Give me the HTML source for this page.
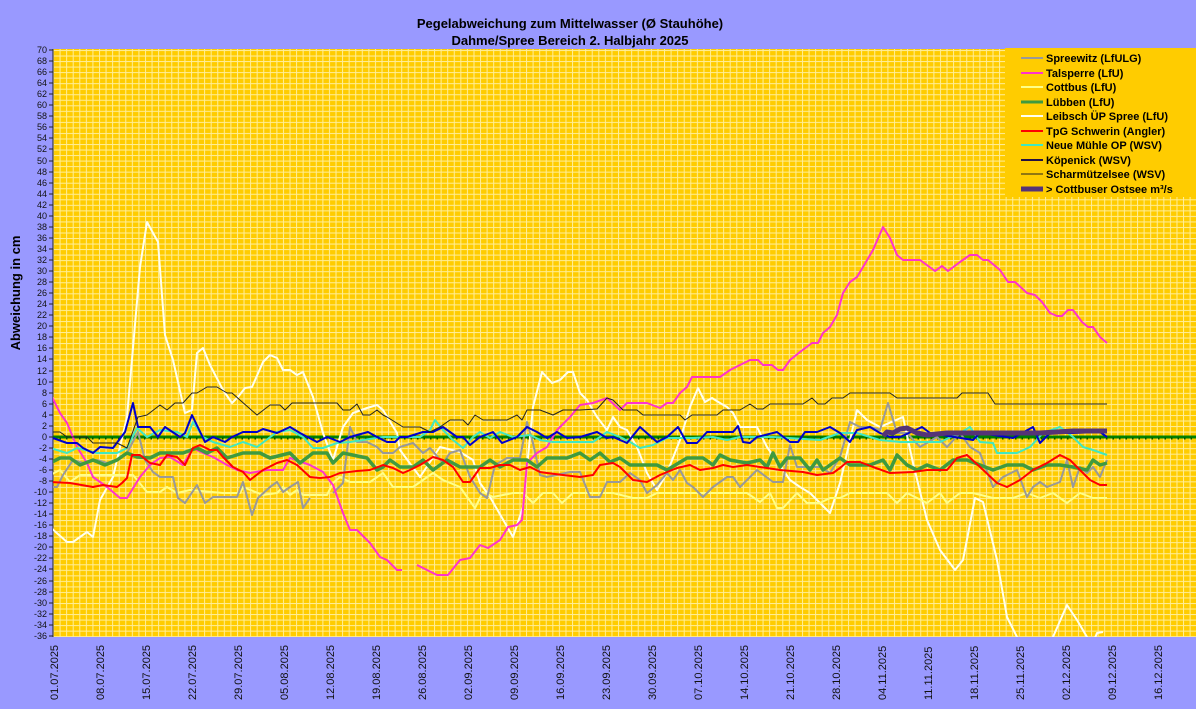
<!DOCTYPE html>
<html><head><meta charset="utf-8"><style>
html,body{margin:0;padding:0;background:#9999FF;}
svg{display:block;font-family:"Liberation Sans",Arial,sans-serif;}
</style></head><body>
<svg width="1196" height="709" viewBox="0 0 1196 709" xmlns="http://www.w3.org/2000/svg">
<defs>
<pattern id="vg" x="53" y="0" width="6.57" height="709" patternUnits="userSpaceOnUse"><rect x="0" y="0" width="1" height="709" fill="#FFEE99"/></pattern>
<pattern id="hg" x="0" y="50" width="1196" height="5.53" patternUnits="userSpaceOnUse"><rect x="0" y="0" width="1196" height="1" fill="#FFEE99"/></pattern>
<clipPath id="pc"><rect x="53" y="49" width="1143" height="588"/></clipPath>
</defs>
<rect x="0" y="0" width="1196" height="709" fill="#9999FF"/>
<rect x="53" y="49" width="1143" height="588" fill="#FFCC00"/>
<rect x="53" y="49" width="1143" height="588" fill="url(#vg)"/>
<rect x="53" y="49" width="1143" height="588" fill="url(#hg)"/>
<text x="570" y="28" text-anchor="middle" font-size="13" font-weight="bold" fill="#000">Pegelabweichung zum Mittelwasser (Ø Stauhöhe)</text>
<text x="570" y="45" text-anchor="middle" font-size="13" font-weight="bold" fill="#000">Dahme/Spree Bereich 2. Halbjahr 2025</text>
<text transform="translate(20,293) rotate(-90)" text-anchor="middle" font-size="13" font-weight="bold" fill="#000">Abweichung in cm</text>
<line x1="53" y1="49" x2="53" y2="637" stroke="#222" stroke-width="1"/>
<g font-size="9" fill="#111" text-anchor="end">
<text x="47" y="53">70</text><text x="47" y="64">68</text><text x="47" y="75">66</text><text x="47" y="86">64</text><text x="47" y="97">62</text><text x="47" y="108">60</text><text x="47" y="119">58</text><text x="47" y="130">56</text><text x="47" y="141">54</text><text x="47" y="152">52</text><text x="47" y="164">50</text><text x="47" y="175">48</text><text x="47" y="186">46</text><text x="47" y="197">44</text><text x="47" y="208">42</text><text x="47" y="219">40</text><text x="47" y="230">38</text><text x="47" y="241">36</text><text x="47" y="252">34</text><text x="47" y="263">32</text><text x="47" y="274">30</text><text x="47" y="285">28</text><text x="47" y="296">26</text><text x="47" y="307">24</text><text x="47" y="318">22</text><text x="47" y="329">20</text><text x="47" y="340">18</text><text x="47" y="351">16</text><text x="47" y="362">14</text><text x="47" y="374">12</text><text x="47" y="385">10</text><text x="47" y="396">8</text><text x="47" y="407">6</text><text x="47" y="418">4</text><text x="47" y="429">2</text><text x="47" y="440">0</text><text x="47" y="451">-2</text><text x="47" y="462">-4</text><text x="47" y="473">-6</text><text x="47" y="484">-8</text><text x="47" y="495">-10</text><text x="47" y="506">-12</text><text x="47" y="517">-14</text><text x="47" y="528">-16</text><text x="47" y="539">-18</text><text x="47" y="550">-20</text><text x="47" y="561">-22</text><text x="47" y="572">-24</text><text x="47" y="584">-26</text><text x="47" y="595">-28</text><text x="47" y="606">-30</text><text x="47" y="617">-32</text><text x="47" y="628">-34</text><text x="47" y="639">-36</text>
</g>
<path d="M49 50h4M49 61h4M49 72h4M49 83h4M49 94h4M49 105h4M49 116h4M49 127h4M49 138h4M49 149h4M49 161h4M49 172h4M49 183h4M49 194h4M49 205h4M49 216h4M49 227h4M49 238h4M49 249h4M49 260h4M49 271h4M49 282h4M49 293h4M49 304h4M49 315h4M49 326h4M49 337h4M49 348h4M49 359h4M49 371h4M49 382h4M49 393h4M49 404h4M49 415h4M49 426h4M49 437h4M49 448h4M49 459h4M49 470h4M49 481h4M49 492h4M49 503h4M49 514h4M49 525h4M49 536h4M49 547h4M49 558h4M49 569h4M49 581h4M49 592h4M49 603h4M49 614h4M49 625h4M49 636h4" stroke="#222" stroke-width="1"/>
<g font-size="11" fill="#111">
<text transform="translate(58,700) rotate(-90)">01.07.2025</text>
<text transform="translate(104,700) rotate(-90)">08.07.2025</text>
<text transform="translate(150,700) rotate(-90)">15.07.2025</text>
<text transform="translate(196,700) rotate(-90)">22.07.2025</text>
<text transform="translate(242,700) rotate(-90)">29.07.2025</text>
<text transform="translate(288,700) rotate(-90)">05.08.2025</text>
<text transform="translate(334,700) rotate(-90)">12.08.2025</text>
<text transform="translate(380,700) rotate(-90)">19.08.2025</text>
<text transform="translate(426,700) rotate(-90)">26.08.2025</text>
<text transform="translate(472,700) rotate(-90)">02.09.2025</text>
<text transform="translate(518,700) rotate(-90)">09.09.2025</text>
<text transform="translate(564,700) rotate(-90)">16.09.2025</text>
<text transform="translate(610,700) rotate(-90)">23.09.2025</text>
<text transform="translate(656,700) rotate(-90)">30.09.2025</text>
<text transform="translate(702,700) rotate(-90)">07.10.2025</text>
<text transform="translate(748,700) rotate(-90)">14.10.2025</text>
<text transform="translate(794,700) rotate(-90)">21.10.2025</text>
<text transform="translate(840,700) rotate(-90)">28.10.2025</text>
<text transform="translate(886,700) rotate(-90)">04.11.2025</text>
<text transform="translate(932,700) rotate(-90)">11.11.2025</text>
<text transform="translate(978,700) rotate(-90)">18.11.2025</text>
<text transform="translate(1024,700) rotate(-90)">25.11.2025</text>
<text transform="translate(1070,700) rotate(-90)">02.12.2025</text>
<text transform="translate(1116,700) rotate(-90)">09.12.2025</text>
<text transform="translate(1162,700) rotate(-90)">16.12.2025</text>
</g>
<g clip-path="url(#pc)" fill="none" stroke-linejoin="round">
<line x1="53" y1="437" x2="1196" y2="437" stroke="#008000" stroke-width="3"/>
<line x1="53" y1="438.5" x2="1196" y2="438.5" stroke="#005500" stroke-width="2" stroke-dasharray="1.5,5"/>
<polyline stroke="#FFFFF0" stroke-width="2" points="50,527 67,542 73,542 87,532 93,537 100,500 113,477 127,417 140,267 147,222 158,242 165,335 173,360 185,413 192,410 197,353 203,348 210,365 223,390 232,403 238,397 245,388 252,387 263,362 270,355 277,358 283,370 290,370 297,375 303,372 313,397 323,433 333,460 343,427 353,413 367,408 377,405 383,410 397,433 400,450 420,477 440,447 460,452 473,460 480,483 490,497 513,537 523,507 533,407 542,372 552,383 560,380 568,372 573,372 580,393 587,400 597,417 607,430 613,417 620,427 627,430 637,447 647,473 657,490 667,473 680,440 690,407 698,388 705,402 712,398 720,403 727,407 733,413 740,427 750,427 757,427 767,447 790,480 800,487 810,493 830,513 840,483 857,410 867,420 880,427 903,417 913,463 927,520 940,550 955,570 963,560 975,498 983,502 997,560 1007,617 1017,637 1030,660 1045,660 1053,637 1067,605 1077,620 1087,637 1092,645 1097,633 1103,632"/>
<polyline stroke="#FFFF88" stroke-width="2" points="50,475 60,470 70,482 80,475 117,475 133,475 147,492 160,492 167,487 177,493 190,490 223,493 240,493 243,487 263,495 277,493 283,487 290,495 297,490 303,495 327,495 333,483 340,477 350,482 370,482 383,473 393,487 413,487 433,473 443,480 460,487 475,508 483,492 493,497 513,493 523,493 533,503 543,493 553,493 562,503 573,493 613,493 633,498 647,498 657,493 700,493 747,493 760,502 770,493 777,508 783,508 797,493 807,503 820,503 830,498 840,498 850,493 880,493 887,493 897,503 907,493 927,503 940,493 947,503 960,493 973,493 993,498 1013,498 1027,493 1040,498 1053,493 1067,503 1080,493 1093,498 1107,498"/>
<polyline stroke="#999999" stroke-width="2" points="50,487 57,487 63,475 73,460 83,463 97,460 107,463 117,460 127,453 138,432 145,460 153,472 160,477 173,477 178,498 185,503 197,485 205,503 213,497 237,497 243,482 252,515 258,498 270,487 277,482 283,492 290,487 298,482 303,508 310,498"/>
<polyline stroke="#999999" stroke-width="2" points="333,493 343,483 350,427 357,442 367,442 377,447 383,453 393,453 400,447 413,443 423,453 430,448 443,463 450,453 460,450 470,477 480,493 487,498 495,465 507,458 520,458 527,422 533,443 540,475 547,477 570,472 580,472 590,497 600,497 607,482 620,482 630,473 640,480 647,493 657,485 667,473 673,480 680,470 687,483 693,487 703,497 713,487 727,477 733,477 740,487 747,480 757,470 773,482 783,482 790,445 797,467 820,467 830,473 840,457 850,422 860,427 870,427 880,430 888,403 897,433 907,433 920,447 937,437 947,447 960,433 970,447 980,453 993,487 1003,477 1017,470 1027,497 1033,487 1040,482 1047,487 1060,482 1067,460 1073,487 1080,467 1087,473 1093,467 1100,477 1107,460"/>
<polyline stroke="#FF33CC" stroke-width="2" points="50,393 60,413 67,423 77,447 87,463 93,477 107,487 120,498 127,498 140,477 150,465 160,458 170,457 183,465 193,448 203,453 213,457 227,465 237,470 250,473 267,470 283,470 290,458 310,465 323,472 333,485 343,513 350,530 357,530 370,543 380,557 387,560 397,570 402,570"/>
<polyline stroke="#FF33CC" stroke-width="2" points="417,565 427,570 437,575 448,575 460,560 470,558 480,545 488,548 500,540 508,527 517,525 522,520 527,463 537,453 547,447 557,430 570,417 580,405 593,403 607,398 620,410 627,403 647,403 660,408 667,403 673,403 680,393 687,387 692,377 700,377 720,377 730,370 740,365 750,360 758,360 763,365 772,365 778,370 783,370 790,360 800,352 812,343 818,343 823,333 830,327 837,315 843,293 850,282 857,277 863,267 873,250 883,227 890,238 897,255 903,260 920,260 935,271 942,266 948,271 960,262 970,255 977,255 983,260 988,260 1000,270 1008,282 1015,282 1027,293 1035,295 1042,302 1050,313 1057,316 1062,316 1068,310 1073,310 1082,322 1088,327 1093,327 1100,337 1107,343"/>
<polyline stroke="#3F9A3F" stroke-width="3.5" points="50,463 60,458 70,458 80,465 93,460 105,465 117,460 127,453 137,457 150,458 160,453 183,453 197,448 207,453 217,448 227,458 243,453 260,453 270,458 290,453 300,463 313,453 327,453 333,463 343,453 367,458 377,470 383,467 390,460 400,467 413,467 423,460 433,470 447,460 460,467 480,467 490,460 500,467 513,460 527,460 537,467 547,458 567,458 580,453 590,460 600,453 610,462 620,458 630,465 657,465 667,470 687,458 703,458 713,465 720,455 730,460 747,463 760,460 767,467 773,453 780,467 787,458 800,458 810,470 817,460 823,470 840,458 850,465 870,465 883,460 890,470 897,455 907,465 917,470 927,465 940,470 953,460 967,460 980,465 993,470 1007,465 1023,465 1033,470 1047,465 1060,465 1073,467 1087,470 1093,460 1100,465 1107,463"/>
<polyline stroke="#FF0000" stroke-width="2" points="50,482 70,483 93,487 103,485 117,487 122,483 127,478 132,455 140,455 150,463 160,465 167,455 177,457 185,465 193,448 200,445 210,450 217,450 223,457 233,467 243,472 250,480 263,470 277,463 287,460 297,465 310,477 320,478 330,477 340,473 357,471 370,470 383,465 393,468 403,473 410,470 420,465 433,457 443,460 453,467 463,482 470,482 480,468 490,468 500,465 510,465 520,470 530,467 540,472 547,473 563,475 580,477 593,475 600,465 613,463 620,467 633,480 647,482 660,475 677,468 690,465 700,470 713,468 723,465 733,467 747,465 760,467 780,470 803,472 817,475 833,473 840,468 847,462 860,462 873,467 890,473 913,472 927,470 947,470 957,458 967,455 980,467 997,483 1007,487 1020,480 1033,470 1047,463 1060,455 1070,460 1080,470 1090,480 1100,485 1107,485"/>
<polyline stroke="#40E8C0" stroke-width="2" points="50,448 67,453 77,448 97,453 117,453 127,448 137,428 147,437 160,430 177,432 187,437 193,422 203,437 213,442 230,447 243,442 257,447 277,432 290,430 303,437 313,448 323,448 337,443 350,442 383,437 420,437 430,430 435,420 443,430 453,440 463,448 473,437 480,432 490,438 500,432 513,437 530,435 540,440 553,442 593,442 607,432 620,437 630,442 640,448 653,445 667,438 693,438 713,437 727,440 740,437 773,437 820,440 840,433 857,433 880,440 900,442 940,442 960,433 970,427 980,442 993,443 997,453 1017,453 1030,447 1043,433 1060,427 1073,437 1083,447 1093,450 1107,455"/>
<polyline stroke="#0000CC" stroke-width="2" points="50,437 67,443 77,443 83,448 93,453 100,447 113,448 125,432 133,403 138,427 150,427 158,437 165,427 180,437 185,433 192,415 205,442 213,437 225,442 232,437 243,432 257,432 263,429 277,433 290,427 300,433 317,442 327,437 340,442 350,437 368,432 377,437 387,442 395,442 400,437 407,437 423,432 433,432 443,427 457,437 463,437 470,445 480,437 493,432 502,443 517,437 527,427 537,432 547,438 557,432 567,438 580,437 597,432 607,438 613,437 627,443 640,427 657,442 667,437 678,427 687,443 697,443 707,432 733,432 738,426 743,442 750,443 757,437 777,432 790,442 798,442 805,432 817,432 830,427 840,433 850,442 857,430 870,427 880,433 890,437 900,437 922,427 930,433 973,440 980,433 1013,438 1033,427 1040,443 1050,433 1073,433 1100,432 1107,437"/>
<polyline stroke="#222" stroke-width="1" points="50,432 60,432 67,437 87,437 93,443 117,443 127,448 138,417 147,415 160,405 167,410 175,403 183,403 192,393 197,393 207,387 217,387 227,393 232,393 257,415 270,405 280,405 285,410 292,403 337,403 343,410 350,410 357,404 363,415 370,415 377,410 383,415 387,417 403,427 420,427 430,432 440,427 450,420 463,420 468,425 475,415 483,420 507,420 517,415 522,420 527,410 540,410 553,415 563,410 580,410 597,409 607,398 613,400 623,410 637,410 643,415 680,415 685,420 692,415 717,415 723,410 740,410 750,404 757,409 763,409 770,404 803,404 812,398 818,404 825,404 832,398 843,398 850,393 890,393 897,398 957,398 962,393 988,393 995,404 1107,404"/>
<polyline stroke="#553377" stroke-width="5" points="883,436 887,432 893,433 900,429 907,428 917,433 927,435 947,433 973,433 1000,433 1040,433 1073,431 1107,431"/>
</g>
<rect x="1005" y="48" width="191" height="149" fill="#FFCC00"/>
<g font-size="11" font-weight="bold" fill="#000">
<line x1="1021" y1="58" x2="1043" y2="58" stroke="#999999" stroke-width="2"/><text x="1046" y="62">Spreewitz (LfULG)</text>
<line x1="1021" y1="73" x2="1043" y2="73" stroke="#FF33CC" stroke-width="2"/><text x="1046" y="77">Talsperre (LfU)</text>
<line x1="1021" y1="87" x2="1043" y2="87" stroke="#FFFF88" stroke-width="2"/><text x="1046" y="91">Cottbus (LfU)</text>
<line x1="1021" y1="102" x2="1043" y2="102" stroke="#3F9A3F" stroke-width="3"/><text x="1046" y="106">Lübben (LfU)</text>
<line x1="1021" y1="116" x2="1043" y2="116" stroke="#FFFFF0" stroke-width="2"/><text x="1046" y="120">Leibsch ÜP Spree (LfU)</text>
<line x1="1021" y1="131" x2="1043" y2="131" stroke="#FF0000" stroke-width="2"/><text x="1046" y="135">TpG Schwerin (Angler)</text>
<line x1="1021" y1="145" x2="1043" y2="145" stroke="#40E8C0" stroke-width="2"/><text x="1046" y="149">Neue Mühle OP (WSV)</text>
<line x1="1021" y1="160" x2="1043" y2="160" stroke="#221144" stroke-width="2"/><text x="1046" y="164">Köpenick (WSV)</text>
<line x1="1021" y1="174" x2="1043" y2="174" stroke="#222" stroke-width="1"/><text x="1046" y="178">Scharmützelsee (WSV)</text>
<line x1="1021" y1="189" x2="1043" y2="189" stroke="#553377" stroke-width="5"/><text x="1046" y="193">&gt; Cottbuser Ostsee m³/s</text>
</g>
</svg>
</body></html>
